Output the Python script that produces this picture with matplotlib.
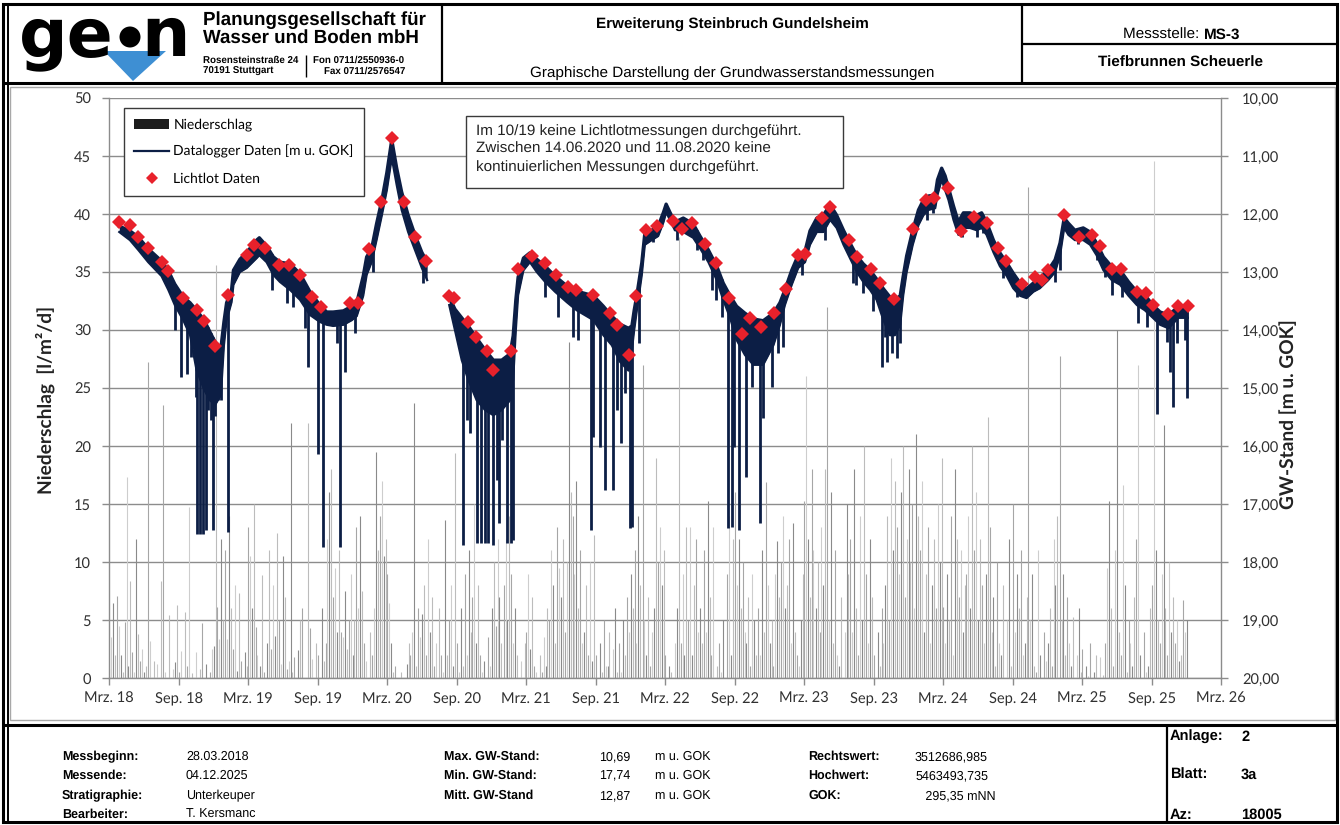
import matplotlib
matplotlib.use('Agg')
import matplotlib.pyplot as plt
from matplotlib.lines import Line2D
from matplotlib.patches import Rectangle, Polygon, Ellipse, Patch
import numpy as np
import pandas as pd
import matplotlib.dates as mdates

# ---------------- data ----------------
x_tick_labels = ['Mrz. 18', 'Sep. 18', 'Mrz. 19', 'Sep. 19', 'Mrz. 20', 'Sep. 20', 'Mrz. 21', 'Sep. 21',
                 'Mrz. 22', 'Sep. 22', 'Mrz. 23', 'Sep. 23', 'Mrz. 24', 'Sep. 24', 'Mrz. 25', 'Sep. 25', 'Mrz. 26']
left_ticks = [0, 5, 10, 15, 20, 25, 30, 35, 40, 45, 50]
right_ticks = [10, 11, 12, 13, 14, 15, 16, 17, 18, 19, 20]

# Niederschlag [l/m2/d], 6 readings per month (days 1, 6, 11, 16, 21, 26)
ns_slot_days = [1, 6, 11, 16, 21, 26]
ns_2018 = [0.8, 3.5, 6.5, 2.0, 7.1, 4.5,  2.0, 0.5, 4.8, 17.3, 1.0, 8.4,  2.2, 0.5, 12.0, 3.8, 1.5, 2.5,
           0.5, 1.0, 27.2, 3.2, 0.0, 1.5,  0.0, 1.2, 0.0, 8.4, 23.5, 0.5,  0.0, 5.4, 0.0, 0.8, 1.4, 6.3,
           0.5, 2.3, 0.0, 5.7, 1.0, 14.7,  0.0, 0.4, 0.0, 2.2, 0.0, 0.8,  4.7, 0.0, 1.2, 0.0, 0.5, 2.5,
           2.8, 35.6, 6.1, 3.4, 12.0, 5.0]
ns_2019 = [11.0, 3.4, 14.0, 6.0, 2.5, 8.0,  0.6, 7.3, 1.5, 0.0, 2.2, 1.0,  13.0, 10.5, 6.0, 15.0, 4.4, 2.0,
           1.0, 8.9, 0.5, 0.0, 3.0, 11.0,  2.5, 8.0, 3.6, 12.5, 5.0, 1.2,  10.5, 7.0, 0.8, 1.5, 22.0, 0.5,
           1.8, 0.0, 2.4, 5.0, 6.0, 0.0,  0.0, 22.0, 4.3, 1.6, 0.0, 3.0,  2.0, 0.0, 6.0, 1.5, 3.0, 12.0,
           16.0, 18.0, 7.0, 9.5, 4.0, 11.0,  4.0, 3.5, 7.5, 2.5, 5.0, 9.0,  2.0, 5.0, 13.0, 6.0, 14.0, 7.5]
ns_2020 = [3.0, 1.5, 0.0, 4.0, 2.0, 6.0,  19.5, 11.0, 14.0, 17.0, 10.5, 12.0,  9.0, 6.5, 3.0, 0.5, 1.0, 0.0,
           0.0, 0.5, 0.0, 0.0, 1.2, 3.0,  2.0, 4.0, 23.7, 1.0, 6.0, 3.5,  5.5, 8.0, 2.0, 12.0, 4.0, 7.0,
           1.0, 3.0, 0.0, 6.0, 2.0, 0.5,  13.6, 2.0, 5.0, 8.0, 1.0, 19.4,  3.0, 0.5, 6.0, 1.0, 9.0, 2.0,
           11.0, 4.0, 7.0, 15.0, 3.0, 8.0,  2.0, 0.5, 1.5, 0.0, 3.5, 1.0,  6.0, 10.0, 4.5, 12.0, 7.0, 3.0]
ns_2021 = [8.0, 12.0, 5.0, 14.0, 9.0, 3.0,  6.0, 2.0, 0.0, 1.5, 0.0, 3.0,  4.0, 9.0, 2.5, 7.0, 1.0, 0.5,
           0.0, 2.0, 0.5, 3.5, 1.0, 6.0,  5.0, 11.0, 8.0, 3.0, 13.0, 9.5,  7.0, 12.0, 4.0, 10.0, 29.0, 16.0,
           14.0, 9.0, 17.0, 6.0, 11.0, 3.0,  4.0, 8.0, 2.0, 10.0, 1.5, 12.3,  2.0, 0.0, 3.0, 0.5, 5.0, 1.0,
           1.0, 4.0, 0.0, 2.5, 6.0, 0.5,  3.0, 0.5, 5.0, 2.0, 7.0, 4.0,  9.0, 6.0, 11.0, 3.0, 14.0, 8.0]
ns_2022 = [27.0, 5.0, 2.0, 7.0, 1.0, 4.0,  6.0, 19.0, 10.0, 13.0, 8.0, 11.0,  2.0, 0.0, 1.0, 0.5, 0.0, 3.0,
           6.0, 38.0, 3.0, 9.0, 2.0, 13.0,  5.0, 13.0, 2.0, 8.0, 12.0, 4.0,  6.0, 3.0, 11.0, 4.0, 15.3, 7.0,
           2.0, 13.0, 0.0, 1.0, 3.0, 0.5,  5.0, 0.0, 9.0, 14.0, 2.0, 12.0,  16.0, 8.0, 12.0, 6.0, 10.0, 4.0,
           3.0, 7.0, 1.0, 9.0, 5.0, 2.0,  6.0, 2.0, 11.0, 4.0, 16.9, 8.0,  3.0, 5.0, 1.0, 9.0, 11.8, 7.0]
ns_2023 = [10.0, 14.0, 6.0, 8.0, 12.0, 3.0,  13.4, 4.0, 2.0, 1.0, 5.0, 9.0,  15.3, 26.0, 12.0, 7.0, 18.0, 11.0,
           6.0, 10.0, 4.0, 13.0, 8.0, 18.0,  32.0, 5.0, 16.0, 3.0, 11.0, 2.0,  1.0, 7.0, 0.0, 4.0, 15.0, 9.0,
           12.0, 4.0, 18.0, 6.0, 2.0, 14.0,  5.0, 20.0, 9.0, 3.0, 12.0, 7.0,  2.0, 0.0, 4.0, 1.0, 6.0, 3.0,
           8.0, 14.0, 5.0, 19.0, 11.0, 17.0,  13.0, 9.0, 16.0, 20.0, 7.0, 12.0,  18.0, 10.0, 15.0, 6.0, 21.0, 14.0]
ns_2024 = [11.0, 17.0, 4.0, 9.0, 13.0, 3.0,  8.0, 12.0, 6.0, 15.0, 10.0, 19.0,  6.1, 3.0, 9.0, 5.0, 14.0, 2.0,
           18.0, 12.0, 7.0, 11.0, 4.0, 8.0,  9.0, 14.0, 6.0, 20.0, 11.0, 16.0,  5.0, 12.0, 8.0, 3.0, 9.0, 22.5,
           13.0, 4.0, 7.0, 1.0, 10.0, 3.0,  2.0, 8.0, 0.0, 5.0, 12.0, 1.0,  15.0, 4.0, 9.0, 6.0, 11.0, 2.0,
           3.0, 7.0, 42.3, 5.0, 9.0, 1.0,  0.5, 11.0, 2.0, 0.0, 4.0, 1.5,  3.0, 6.0, 1.0, 12.0, 8.0, 14.0]
ns_2025 = [27.8, 5.0, 9.0, 2.0, 7.0, 3.0,  1.0, 5.3, 0.0, 2.0, 6.0, 0.5,  2.5, 0.0, 1.0, 0.2, 3.0, 0.0,
           0.5, 2.0, 0.0, 1.8, 0.0, 0.3,  3.0, 9.5, 15.3, 6.0, 1.0, 11.0,  30.0, 4.0, 2.0, 16.6, 8.0, 0.5,
           5.0, 3.0, 1.0, 7.0, 12.0, 27.0,  2.0, 0.0, 4.0, 0.5, 1.0, 6.0,  8.0, 44.6, 11.0, 5.0, 3.0, 9.0,
           21.8, 6.0, 2.0, 10.0, 4.0, 7.0,  3.0, 5.0, 1.5, 2.0, 6.7, 4.0,  5.0]
ns_years = [(2018, 3, ns_2018), (2019, 1, ns_2019), (2020, 1, ns_2020), (2021, 1, ns_2021),
            (2022, 1, ns_2022), (2023, 1, ns_2023), (2024, 1, ns_2024), (2025, 1, ns_2025)]

# Datalogger (band: upper and lower level, m u. GOK) - before the gap 14.06.2020
dl_a_dates = ['2018-03-28', '2018-04-25', '2018-05-17', '2018-06-12', '2018-07-17', '2018-08-04', '2018-08-21',
              '2018-09-12', '2018-09-30', '2018-10-17', '2018-11-06', '2018-11-21', '2018-12-05', '2018-12-20',
              '2018-12-28', '2019-01-04', '2019-01-17', '2019-01-22', '2019-02-08', '2019-02-26', '2019-03-24',
              '2019-03-31', '2019-04-19', '2019-05-07', '2019-05-24', '2019-06-20', '2019-07-16', '2019-08-11',
              '2019-09-06', '2019-09-24', '2019-10-11', '2019-11-07', '2019-11-29', '2019-12-12', '2019-12-29',
              '2020-01-07', '2020-01-20', '2020-02-02', '2020-02-16', '2020-02-29', '2020-03-13', '2020-03-26',
              '2020-04-08', '2020-04-25', '2020-05-13', '2020-05-31', '2020-06-14']
dl_a_top = [12.21, 12.29, 12.40, 12.60, 12.81, 12.98, 13.21, 13.43, 13.53, 13.66, 13.83, 14.03, 14.21, 14.31,
            13.86, 13.53, 13.31, 12.97, 12.78, 12.66, 12.45, 12.41, 12.55, 12.74, 12.83, 12.86, 13.03, 13.34,
            13.57, 13.69, 13.69, 13.67, 13.59, 13.53, 13.07, 12.74, 12.60, 12.17, 11.76, 11.29, 10.72, 11.21,
            11.62, 12.02, 12.36, 12.66, 12.83]
dl_a_bot = [12.31, 12.45, 12.62, 12.83, 13.07, 13.31, 13.57, 13.83, 14.09, 14.69, 15.03, 15.21, 15.29, 15.12,
            14.26, 13.83, 13.52, 13.22, 13.00, 12.93, 12.76, 12.71, 12.83, 13.05, 13.17, 13.31, 13.48, 13.74,
            13.86, 13.91, 13.93, 13.91, 13.83, 13.76, 13.41, 13.05, 12.83, 12.45, 12.02, 11.59, 11.03, 11.50,
            11.93, 12.31, 12.62, 12.93, 13.14]
# after the gap (from 11.08.2020)
dl_b_dates = ['2020-08-11', '2020-08-26', '2020-09-13', '2020-09-30', '2020-10-22', '2020-11-13', '2020-12-05',
              '2020-12-27', '2021-01-18', '2021-01-26', '2021-02-02', '2021-02-08', '2021-02-22', '2021-03-11',
              '2021-03-29', '2021-04-20', '2021-05-16', '2021-06-16', '2021-07-12', '2021-08-25', '2021-09-20',
              '2021-10-12', '2021-11-03', '2021-11-25', '2021-12-04', '2021-12-10', '2021-12-17', '2021-12-30',
              '2022-01-07', '2022-01-25', '2022-02-11', '2022-02-25', '2022-03-04', '2022-03-14', '2022-03-27',
              '2022-04-18', '2022-05-14', '2022-06-01', '2022-06-23', '2022-07-15', '2022-08-01', '2022-08-19',
              '2022-09-05', '2022-09-27', '2022-10-19', '2022-11-14', '2022-12-11', '2022-12-28', '2023-01-10',
              '2023-01-28', '2023-02-14', '2023-03-04', '2023-03-17', '2023-04-04', '2023-04-21', '2023-05-09',
              '2023-05-26', '2023-06-13', '2023-06-30', '2023-07-18', '2023-08-04', '2023-08-22', '2023-09-08',
              '2023-09-26', '2023-10-13', '2023-10-26', '2023-11-09', '2023-11-17', '2023-11-26', '2023-12-12',
              '2023-12-27', '2024-01-09', '2024-01-22', '2024-02-09', '2024-02-15', '2024-02-26', '2024-03-06',
              '2024-03-15', '2024-03-28', '2024-04-10', '2024-04-23', '2024-05-10', '2024-05-28', '2024-06-10',
              '2024-06-23', '2024-07-11', '2024-07-28', '2024-08-15', '2024-09-01', '2024-09-19', '2024-10-06',
              '2024-10-24', '2024-11-10', '2024-12-02', '2024-12-20', '2025-01-02', '2025-01-13', '2025-01-24',
              '2025-02-10', '2025-03-04', '2025-03-22', '2025-04-08', '2025-04-26', '2025-05-18', '2025-06-09',
              '2025-07-01', '2025-07-23', '2025-08-13', '2025-09-03', '2025-09-22', '2025-10-14', '2025-11-09',
              '2025-12-01', '2025-12-04']
dl_b_top = [13.43, 13.64, 13.79, 13.93, 14.14, 14.34, 14.52, 14.52,
            14.41, 14.10, 13.48, 13.09, 12.76, 12.67, 12.78, 12.90, 13.07, 13.24, 13.33, 13.41, 13.59, 13.76,
            13.90, 13.97, 13.93, 13.66, 13.40, 12.84,
            12.33, 12.28, 12.21, 11.97, 11.83, 11.97, 12.14, 12.07, 12.17, 12.38, 12.62, 12.90, 13.19, 13.41,
            13.59, 13.71, 13.81, 13.84, 13.71, 13.53,
            13.31, 12.97, 12.71, 12.64, 12.29, 12.07, 12.02, 11.84, 12.02, 12.28, 12.50, 12.72, 12.86, 12.97,
            13.12, 13.29, 13.43, 13.48, 13.41, 13.07, 12.72, 12.28, 11.93,
            11.76, 11.69, 11.67, 11.41, 11.21, 11.34, 11.55, 11.86, 12.14, 11.98, 11.98, 12.02, 11.98, 12.14,
            12.45, 12.67, 12.84, 13.02, 13.19, 13.29, 13.19, 13.10, 12.97, 12.79,
            12.50, 12.07, 12.16, 12.28, 12.24, 12.31, 12.50, 12.74, 12.91, 12.97, 13.17, 13.34, 13.40, 13.57,
            13.69, 13.74, 13.60, 13.60, 13.60]
dl_b_bot = [13.57, 14.00, 14.52, 14.86, 15.21, 15.38, 15.47, 15.38,
            15.21, 14.86, 14.00, 13.40, 12.97, 12.83, 13.00, 13.17, 13.34, 13.52, 13.66, 13.83, 14.09, 14.26,
            14.55, 14.70, 14.34, 14.00, 13.66, 13.05,
            12.53, 12.45, 12.38, 12.14, 11.97, 12.10, 12.28, 12.31, 12.41, 12.59, 12.83, 13.14, 13.48, 13.79,
            14.17, 14.43, 14.60, 14.60, 14.26, 13.91,
            13.57, 13.22, 12.93, 12.83, 12.53, 12.31, 12.31, 12.10, 12.24, 12.53, 12.76, 13.00, 13.17, 13.31,
            13.48, 13.83, 14.09, 14.09, 13.91, 13.40, 13.00, 12.53, 12.19,
            12.02, 11.93, 11.90, 11.67, 11.41, 11.59, 11.76, 12.10, 12.36, 12.24, 12.24, 12.28, 12.24, 12.36,
            12.66, 12.90, 13.07, 13.28, 13.41, 13.45, 13.34, 13.28, 13.14, 13.00,
            12.71, 12.24, 12.36, 12.45, 12.45, 12.53, 12.71, 12.97, 13.14, 13.22, 13.41, 13.57, 13.66, 13.79,
            13.91, 13.97, 13.79, 13.79, 13.79]

# Datalogger drawdown spikes (lowest level reached)
sp_dates = ['2018-08-21', '2018-09-05', '2018-09-23', '2018-10-02', '2018-10-16', '2018-10-19', '2018-10-26',
            '2018-11-02', '2018-11-11', '2018-11-15', '2018-11-23', '2018-11-28', '2018-12-05', '2018-12-13',
            '2018-12-20', '2019-01-08',
            '2019-05-03', '2019-06-11', '2019-06-28', '2019-07-29', '2019-08-07', '2019-09-02', '2019-09-14',
            '2019-10-20', '2019-10-29', '2019-11-11', '2019-12-07', '2020-01-25', '2020-06-04',
            '2020-09-15', '2020-09-26', '2020-10-05', '2020-10-22', '2020-11-02', '2020-11-13', '2020-11-22',
            '2020-12-03', '2020-12-14', '2020-12-21', '2020-12-27', '2021-01-09', '2021-01-20', '2021-01-26',
            '2021-04-20', '2021-05-25', '2021-07-03', '2021-07-16', '2021-08-19', '2021-08-25', '2021-09-11',
            '2021-09-24', '2021-10-15', '2021-10-25', '2021-11-05', '2021-11-16', '2021-11-29', '2021-12-04',
            '2021-12-23',
            '2022-01-29', '2022-04-01', '2022-05-23', '2022-06-10', '2022-07-02', '2022-07-13', '2022-07-28',
            '2022-08-14', '2022-08-23', '2022-08-29', '2022-09-12', '2022-09-30', '2022-10-15', '2022-11-06',
            '2022-11-13', '2022-12-06', '2022-12-24', '2023-01-06',
            '2023-02-23', '2023-04-25', '2023-06-26', '2023-07-09', '2023-07-16', '2023-08-04', '2023-08-29',
            '2023-09-21', '2023-09-30', '2023-10-06', '2023-10-18', '2023-10-31', '2023-11-09',
            '2024-01-18', '2024-02-04', '2024-04-19', '2024-05-28', '2024-06-14', '2024-08-06', '2024-09-10',
            '2024-11-06', '2024-12-20', '2025-01-02', '2025-02-19', '2025-04-08', '2025-04-30', '2025-05-18',
            '2025-06-13', '2025-07-27', '2025-08-18', '2025-09-13', '2025-10-09', '2025-10-18', '2025-10-27',
            '2025-11-05', '2025-11-27', '2025-12-01']
sp_gw = [14.0, 14.81, 14.75, 14.46, 15.15, 17.51, 17.51, 17.51, 17.45, 15.38, 15.55, 17.45, 15.49, 15.21, 15.21, 17.48,
         13.31, 13.54, 13.60, 13.97, 14.63, 16.13, 17.74, 14.23, 17.74, 14.72, 14.06, 13.0, 13.19,
         17.71, 15.55, 15.78, 17.67, 17.67, 17.67, 17.67, 17.71, 16.59, 17.33, 15.90, 17.67, 17.67, 17.62,
         13.43, 13.77, 14.12, 14.17, 17.45, 15.84, 16.02, 16.76, 16.76, 15.38, 15.95, 15.09, 17.41, 17.40, 14.22,
         12.48, 12.45, 12.62, 12.79, 13.31, 13.48, 13.77, 17.41, 17.40, 16.02, 17.45, 16.53, 14.98, 17.33, 15.52,
         14.98, 14.40, 14.29,
         13.05, 12.45, 12.51, 13.19, 13.22, 13.37, 13.68, 14.63, 14.12, 14.55, 14.40, 14.49, 14.23,
         12.10, 11.99, 12.39, 12.39, 12.33, 13.11, 13.43, 13.25, 13.17, 12.97, 12.51, 12.79, 13.08, 13.40, 13.43,
         13.88, 13.94, 15.44, 14.20, 14.72, 15.32, 14.23, 14.17, 15.18]

# Lichtlot (manual) measurements, m u. GOK
ll_dates = ['2018-03-28', '2018-04-25', '2018-05-17', '2018-06-12', '2018-07-17', '2018-08-02', '2018-09-12',
            '2018-10-17', '2018-11-06', '2018-12-05', '2019-01-08', '2019-02-26', '2019-03-17', '2019-04-15',
            '2019-05-22', '2019-06-18', '2019-07-16', '2019-08-17', '2019-09-09', '2019-11-24', '2019-12-15',
            '2020-01-14', '2020-02-13', '2020-03-13', '2020-04-14', '2020-05-13', '2020-06-12', '2020-08-11',
            '2020-08-24', '2020-09-29', '2020-10-20', '2020-11-17', '2020-12-03', '2021-01-20', '2021-02-09',
            '2021-03-17', '2021-04-20', '2021-05-18', '2021-06-20', '2021-07-10', '2021-08-25', '2021-10-07',
            '2021-10-27', '2021-11-27', '2021-12-15', '2022-01-10', '2022-02-07', '2022-03-23', '2022-04-14',
            '2022-05-12', '2022-06-14', '2022-07-12', '2022-08-17', '2022-09-20', '2022-10-10', '2022-11-08',
            '2022-12-13', '2023-01-12', '2023-02-13', '2023-03-04', '2023-04-17', '2023-05-09', '2023-06-27',
            '2023-07-18', '2023-08-24', '2023-09-17', '2023-10-25', '2023-12-12', '2024-01-16', '2024-02-07',
            '2024-03-13', '2024-04-17', '2024-05-21', '2024-06-23', '2024-07-24', '2024-08-13', '2024-09-23',
            '2024-10-28', '2024-11-15', '2024-12-02', '2025-01-13', '2025-02-22', '2025-03-28', '2025-04-17',
            '2025-05-18', '2025-06-11', '2025-07-22', '2025-08-15', '2025-09-03', '2025-10-14', '2025-11-09',
            '2025-12-04']
ll_gw = [12.13, 12.19, 12.39, 12.59, 12.83, 12.99, 13.45, 13.66, 13.84, 14.28,
         13.40, 12.71, 12.53, 12.58, 12.88, 12.88, 13.06, 13.43, 13.60, 13.54, 13.54,
         12.61, 11.79, 10.69, 11.79, 12.39, 12.81, 13.42, 13.45, 13.87, 14.12, 14.37, 14.69,
         14.37, 12.95, 12.72, 12.85, 13.05, 13.25, 13.31, 13.40, 13.71, 13.91, 14.43, 13.41,
         12.28, 12.21, 12.12, 12.25, 12.16, 12.52, 12.85, 13.45, 14.07, 13.80, 13.94, 13.71,
         13.29, 12.71, 12.69, 12.07, 11.88, 12.45, 12.74, 12.95, 13.19, 13.47, 12.26,
         11.75, 11.72, 11.56, 12.29, 12.06, 12.16, 12.59, 12.81, 13.21, 13.08, 13.14, 12.97,
         12.02, 12.40, 12.36, 12.56, 12.94, 12.94, 13.34, 13.37, 13.57, 13.72, 13.59, 13.58]

# ---------------- figure ----------------
W, H = 1340, 825
CHART = ['Lato', 'DejaVu Sans']
HEAD = ['Liberation Sans', 'DejaVu Sans']
NARROW = ['Liberation Sans Narrow', 'Liberation Sans', 'DejaVu Sans']
plt.rcParams['font.family'] = CHART
plt.rcParams['text.hinting'] = 'no_hinting'

NAVY = '#0c1e45'
RED = '#e8212b'
GRID = '#8c8c8c'

fig = plt.figure(figsize=(W / 100, H / 100), dpi=100)
fig.patch.set_facecolor('white')


def fx(x):
    return x / W


def fy(y):
    return 1 - y / H


def hline(x0, x1, y, lw=1.0, color='black', z=10):
    fig.add_artist(Line2D([fx(x0), fx(x1)], [fy(y), fy(y)], transform=fig.transFigure,
                          color=color, lw=lw, zorder=z, solid_capstyle='butt'))


def vline(x, y0, y1, lw=1.0, color='black', z=10):
    fig.add_artist(Line2D([fx(x), fx(x)], [fy(y0), fy(y1)], transform=fig.transFigure,
                          color=color, lw=lw, zorder=z, solid_capstyle='butt'))


ax = fig.add_axes([fx(109), fy(678), (1221 - 109) / W, (678 - 98) / H])
ax2 = ax.twinx()

# precipitation
ns_dates, ns_vals = [], []
for year, m0, vals in ns_years:
    for i, v in enumerate(vals):
        ns_dates.append(pd.Timestamp(year, m0 + i // 6, ns_slot_days[i % 6]))
        ns_vals.append(v)
grays = ['#a6a6a6', '#cdcdcd', '#8a8a8a', '#bcbcbc']
ns_cols = [grays[i % len(grays)] for i in range(len(ns_vals))]
ax.vlines(ns_dates, 0, ns_vals, colors=ns_cols, lw=0.8, zorder=2)

ax.set_ylim(0, 50)
ax.set_yticks(left_ticks)
ax.set_yticklabels([str(t) for t in left_ticks])
ax.set_xlim(pd.Timestamp('2018-03-01'), pd.Timestamp('2026-03-01'))
xt = pd.date_range('2018-03-01', '2026-03-01', freq='6MS')
ax.set_xticks(xt)
ax.set_xticklabels(x_tick_labels)
ax.yaxis.grid(True, color=GRID, lw=1.0)
ax.set_axisbelow(True)

# datalogger
da = pd.to_datetime(dl_a_dates)
db = pd.to_datetime(dl_b_dates)
for d, t, b in [(da, dl_a_top, dl_a_bot), (db, dl_b_top, dl_b_bot)]:
    ax2.fill_between(d, t, b, color=NAVY, lw=0, zorder=3)
    ax2.plot(d, t, color=NAVY, lw=2.4, zorder=3, solid_joinstyle='round')
    ax2.plot(d, b, color=NAVY, lw=1.6, zorder=3, solid_joinstyle='round')
all_num = mdates.date2num(list(da) + list(db))
all_top = list(dl_a_top) + list(dl_b_top)
sd = pd.to_datetime(sp_dates)
sp_top = np.interp(mdates.date2num(list(sd)), all_num, all_top)
ax2.vlines(sd, sp_top, sp_gw, colors=NAVY, lw=2.0, zorder=3)

# Lichtlot
ax2.plot(pd.to_datetime(ll_dates), ll_gw, ls='none', marker='D', ms=7.6, color=RED, mec=RED, mew=0, zorder=4)

ax2.set_ylim(20, 10)
ax2.set_yticks(right_ticks)
ax2.set_yticklabels([f'{t:.2f}'.replace('.', ',') for t in right_ticks])

for a in (ax, ax2):
    a.spines['top'].set_visible(False)
    for s in a.spines.values():
        s.set_color(GRID)
        s.set_linewidth(1.0)
ax.spines['right'].set_visible(False)
ax2.spines['left'].set_visible(False)
ax2.spines['bottom'].set_visible(False)
ax.tick_params(axis='x', length=5, width=1, color=GRID, labelsize=10.5, labelcolor='#303030', pad=5)
ax.tick_params(axis='y', length=5, width=1, color=GRID, labelsize=10.5, labelcolor='#303030', pad=8)
ax2.tick_params(axis='y', length=5, width=1, color=GRID, labelsize=10.5, labelcolor='#303030', pad=10)

fig.text(fx(45), fy(400), 'Niederschlag  [l/m²/d]', rotation=90, ha='center', va='center',
         fontsize=13.8, fontweight='bold', color='#222222')
fig.text(fx(1288), fy(414), 'GW-Stand [m u. GOK]', rotation=90, ha='center', va='center',
         fontsize=13.8, fontweight='bold', color='#222222')

# legend
handles = [Patch(facecolor='#1c1c1c', edgecolor='none'),
           Line2D([], [], color=NAVY, lw=1.6),
           Line2D([], [], ls='none', marker='D', ms=6.5, color=RED, mew=0)]
leg = fig.legend(handles, ['Niederschlag', 'Datalogger Daten [m u. GOK]', 'Lichtlot Daten'],
                 loc='upper left', bbox_to_anchor=(fx(124), fy(108)), bbox_transform=fig.transFigure,
                 frameon=True, fancybox=False, edgecolor='#3a3a3a', framealpha=1, borderaxespad=0,
                 prop={'family': CHART, 'size': 10}, handlelength=2.5, handletextpad=0.3,
                 labelspacing=1.0, borderpad=0.75)
leg.get_frame().set_linewidth(1.0)
leg.set_zorder(8)

# annotation box
fig.add_artist(Rectangle((fx(466), fy(188)), (843 - 466) / W, (188 - 116) / H, transform=fig.transFigure,
                         facecolor='white', edgecolor='#3a3a3a', lw=1.0, zorder=8))
for yy, txt in [(131, 'Im 10/19 keine Lichtlotmessungen durchgeführt.'),
                (149, 'Zwischen 14.06.2020 und 11.08.2020 keine'),
                (167, 'kontinuierlichen Messungen durchgeführt.')]:
    fig.text(fx(476), fy(yy), txt, ha='left', va='center', fontsize=11, family=HEAD, color='#222222', zorder=9)

# ---------------- frame / header / footer ----------------
fig.add_artist(Rectangle((fx(10), fy(720)), (1335 - 10) / W, (720 - 87) / H, transform=fig.transFigure,
                         facecolor='none', edgecolor='#a8a8a8', lw=1.0, zorder=1))
fig.add_artist(Rectangle((fx(3), fy(822)), (1337 - 3) / W, (822 - 4) / H, transform=fig.transFigure,
                         facecolor='none', edgecolor='black', lw=2.2, zorder=10))
vline(8, 4, 822, lw=1.4)
hline(3, 1337, 83, lw=2.2)
vline(442, 4, 83, lw=1.6)
vline(1022, 4, 83, lw=1.6)
hline(1022, 1337, 44, lw=1.6)
hline(3, 1337, 725, lw=2.2)
vline(1167, 725, 822, lw=1.6)

# logo
fig.add_artist(Polygon([(fx(104), fy(51)), (fx(166), fy(51)), (fx(133), fy(81))], closed=True,
                       transform=fig.transFigure, facecolor='#3e8fd3', edgecolor='none', zorder=11))
fig.text(fx(19), fy(56), 'ge', fontsize=49, fontweight='heavy', family=['DejaVu Sans'], color='black',
         ha='left', va='baseline', zorder=12)
fig.add_artist(Ellipse((fx(130), fy(37)), 21 / W, 21 / H, transform=fig.transFigure, facecolor='black',
                       edgecolor='none', zorder=12))
fig.text(fx(141), fy(56), 'n', fontsize=49, fontweight='heavy', family=['DejaVu Sans'], color='black',
         ha='left', va='baseline', zorder=12)

fig.text(fx(203), fy(20), 'Planungsgesellschaft für', fontsize=13.5, fontweight='bold', family=HEAD,
         ha='left', va='center', zorder=12)
fig.text(fx(203), fy(38), 'Wasser und Boden mbH', fontsize=13.5, fontweight='bold', family=HEAD,
         ha='left', va='center', zorder=12)
fig.text(fx(203), fy(60), 'Rosensteinstraße 24', fontsize=7, fontweight='bold', family=NARROW,
         ha='left', va='center', zorder=12)
fig.text(fx(203), fy(71), '70191 Stuttgart', fontsize=7, fontweight='bold', family=NARROW,
         ha='left', va='center', zorder=12)
vline(306, 55, 77, lw=1.0)
fig.text(fx(313), fy(60), 'Fon 0711/2550936-0', fontsize=7, fontweight='bold', family=NARROW,
         ha='left', va='center', zorder=12)
fig.text(fx(405), fy(71), 'Fax 0711/2576547', fontsize=7, fontweight='bold', family=NARROW,
         ha='right', va='center', zorder=12)

fig.text(fx(732), fy(25), 'Erweiterung Steinbruch Gundelsheim', fontsize=11, fontweight='bold', family=HEAD,
         ha='center', va='center', zorder=12)
fig.text(fx(732), fy(73), 'Graphische Darstellung der Grundwasserstandsmessungen', fontsize=11, family=HEAD,
         ha='center', va='center', zorder=12)
fig.text(fx(1204), fy(35), 'Messstelle: ', fontsize=11, family=HEAD, ha='right', va='center', zorder=12)
fig.text(fx(1204), fy(35), 'MS-3', fontsize=11, fontweight='bold', family=HEAD, ha='left', va='center', zorder=12)
fig.text(fx(1180), fy(63), 'Tiefbrunnen Scheuerle', fontsize=11, fontweight='bold', family=HEAD,
         ha='center', va='center', zorder=12)

# footer
rows = [757, 776, 796, 815]
foot_l_lab = ['Messbeginn:', 'Messende:', 'Stratigraphie:', 'Bearbeiter:']
foot_l_val = ['28.03.2018', '04.12.2025', 'Unterkeuper', 'T. Kersmanc']
foot_m_lab = ['Max. GW-Stand:', 'Min. GW-Stand:', 'Mitt. GW-Stand']
foot_m_val = ['10,69', '17,74', '12,87']
foot_r_lab = ['Rechtswert:', 'Hochwert:', 'GOK:']
foot_r_val = ['3512686,985', '5463493,735', '   295,35 mNN']
fs = 9
for i, y in enumerate(rows):
    fig.text(fx(62), fy(y), foot_l_lab[i], fontsize=fs, fontweight='bold', family=HEAD, va='center')
    fig.text(fx(186), fy(y), foot_l_val[i], fontsize=fs, family=HEAD, va='center')
for i in range(3):
    y = rows[i]
    fig.text(fx(444), fy(y), foot_m_lab[i], fontsize=fs, fontweight='bold', family=HEAD, va='center')
    fig.text(fx(630), fy(y), foot_m_val[i], fontsize=fs, family=HEAD, va='center', ha='right')
    fig.text(fx(655), fy(y), 'm u. GOK', fontsize=fs, family=HEAD, va='center')
    fig.text(fx(808), fy(y), foot_r_lab[i], fontsize=fs, fontweight='bold', family=HEAD, va='center')
    fig.text(fx(915), fy(y), foot_r_val[i], fontsize=fs, family=HEAD, va='center')
for y, lab, val in [(737, 'Anlage:', '2'), (775, 'Blatt:', '3a'), (815, 'Az:', '18005')]:
    fig.text(fx(1170), fy(y), lab, fontsize=10.5, fontweight='bold', family=HEAD, va='center')
    fig.text(fx(1241), fy(y), val, fontsize=10.5, fontweight='bold', family=HEAD, va='center')

fig.savefig('out.png', dpi=100)
